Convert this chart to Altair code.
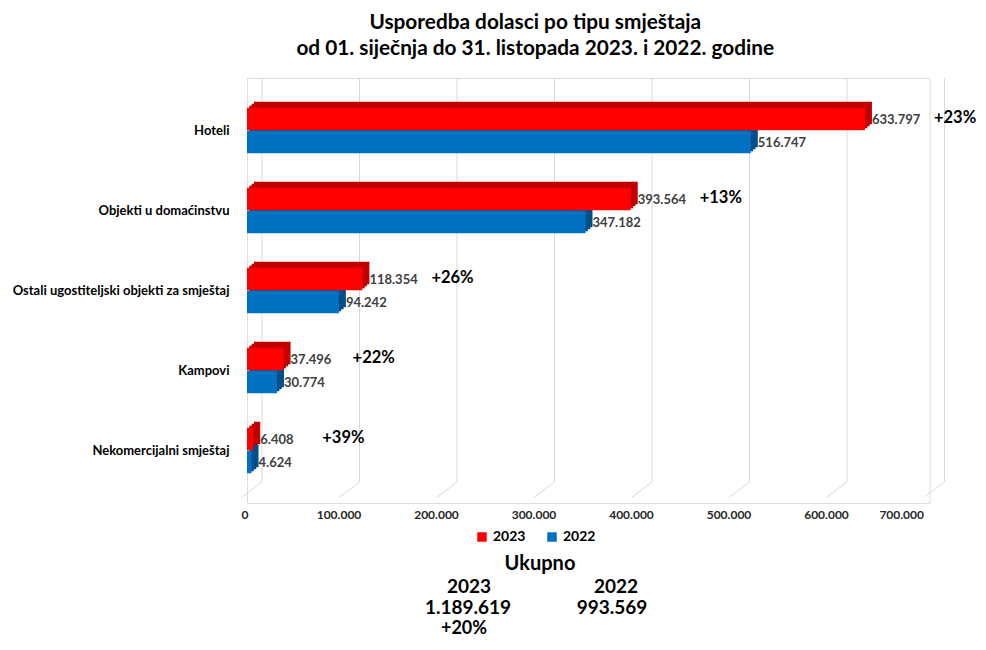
import altair as alt
import pandas as pd

categories = ["Hoteli", "Objekti u domaćinstvu", "Ostali ugostiteljski objekti za smještaj",
              "Kampovi", "Nekomercijalni smještaj"]
values_2023 = [633797, 393564, 118354, 37496, 6408]
values_2022 = [516747, 347182, 94242, 30774, 4624]
pct_labels = ["+23%", "+13%", "+26%", "+22%", "+39%"]
ticks = [0, 100000, 200000, 300000, 400000, 500000, 600000, 700000]
years = ["2023", "2022"]
total_2023 = 1189619
total_2022 = 993569
total_pct = "+20%"

RED, DRED = "#FF0000", "#C00000"
BLUE, DBLUE = "#0070C0", "#004F8A"
FONT = "Lato"


def fmt(v):
    return f"{v:,}".replace(",", ".")


rows = []
for c, a, b, p in zip(categories, values_2023, values_2022, pct_labels):
    rows.append({"cat": c, "year": "2023", "value": a, "label": fmt(a), "pct": p})
    rows.append({"cat": c, "year": "2022", "value": b, "label": fmt(b), "pct": p})
df = pd.DataFrame(rows)
tick_df = pd.DataFrame({"tick": ticks})

XMAX = 700000
xs = alt.Scale(domain=[0, XMAX], nice=False, zero=True)
ys = alt.Scale(paddingInner=0, paddingOuter=0.15625)
X = alt.X("value:Q", scale=xs,
          axis=alt.Axis(values=ticks, grid=False, domain=False, ticks=False,
                        labelExpr="replace(format(datum.value, ','), /,/g, '.')",
                        labelFont=FONT, labelFontWeight="bold", labelFontSize=12,
                        labelColor="#262626", labelPadding=6, labelOffset=-6),
          title=None)
Y = alt.Y("cat:N", sort=categories, scale=ys,
          axis=alt.Axis(domain=False, ticks=False, labelFont=FONT, labelFontWeight="bold",
                        labelFontSize=13, labelColor="#000000", labelPadding=18,
                        labelLimit=400),
          title=None)

BH = 22.5
HO = 11.5
DEPTH_STEPS = [(2.3, -2), (4.7, -4), (7, -6)]

base = alt.Chart(df)
grid_v = alt.Chart(tick_df).mark_rule(color="#d9d9d9", strokeWidth=1, xOffset=15).encode(
    x=alt.X("tick:Q", scale=xs), y=alt.value(0), y2=alt.value(404))
grid_d = alt.Chart(tick_df).mark_rule(color="#d9d9d9", strokeWidth=1, xOffset=15, x2Offset=-5).encode(
    x=alt.X("tick:Q", scale=xs), x2="tick:Q", y=alt.value(404), y2=alt.value(419))

color = alt.Color("year:N", scale=alt.Scale(domain=years, range=[RED, BLUE]),
                  legend=alt.Legend(title=None, orient="none", legendX=228, legendY=452,
                                    direction="horizontal", symbolType="square",
                                    symbolSize=90, symbolStrokeWidth=0,
                                    labelFont=FONT, labelFontWeight="bold", labelFontSize=14,
                                    labelColor="#000000", labelOffset=4, columnPadding=19,
                                    padding=0))

backs = []
for dx, dy in DEPTH_STEPS:
    backs.append(base.transform_filter("datum.year == '2023'").mark_bar(
        height=BH, color=DRED, xOffset=dx, x2Offset=dx, yOffset=-HO + dy).encode(x=X, y=Y))
for dx, dy in DEPTH_STEPS:
    backs.append(base.transform_filter("datum.year == '2022'").mark_bar(
        height=BH, color=DBLUE, xOffset=dx, x2Offset=dx, yOffset=HO + dy).encode(x=X, y=Y))
front_r = base.transform_filter("datum.year == '2023'").mark_bar(
    height=BH, yOffset=-HO).encode(x=X, y=Y, color=color)
front_b = base.transform_filter("datum.year == '2022'").mark_bar(
    height=BH, yOffset=HO).encode(x=X, y=Y, color=color)

lab_r = base.transform_filter("datum.year == '2023'").mark_text(
    align="left", baseline="middle", dx=7, yOffset=-HO + 1, font=FONT, fontWeight="bold",
    fontSize=13, color="#404040").encode(x=X, y=Y, text="label:N")
lab_b = base.transform_filter("datum.year == '2022'").mark_text(
    align="left", baseline="middle", dx=7, yOffset=HO + 1, font=FONT, fontWeight="bold",
    fontSize=13, color="#404040").encode(x=X, y=Y, text="label:N")
pct = base.transform_filter("datum.year == '2023'").mark_text(
    align="left", baseline="middle", dx=69, yOffset=-HO - 1, font=FONT, fontWeight="bold",
    fontSize=16.5, color="#000000").encode(x=X, y=Y, text="pct:N")

tot_df = pd.DataFrame({"a": [0]})


def note(text, x, y, size):
    return alt.Chart(tot_df).mark_text(
        text=text, align="center", baseline="middle", font=FONT, fontWeight="bold",
        fontSize=size, color="#000000").encode(x=alt.value(x), y=alt.value(y))


notes = [
    note("Ukupno", 540 - 247, 564 - 78, 20),
    note("2023", 469 - 247, 587 - 78, 19),
    note(fmt(total_2023), 468 - 247, 608 - 78, 19),
    note(total_pct, 464 - 247, 629 - 78, 18),
    note("2022", 616 - 247, 587 - 78, 19),
    note(fmt(total_2022), 612 - 247, 608 - 78, 19),
]

chart = alt.layer(grid_v, grid_d, *backs, front_r, front_b, lab_r, lab_b, pct, *notes).properties(
    width=682.5, height=425,
    padding={"left": 239, "top": 70, "right": 48.5, "bottom": 139},
    autosize=alt.AutoSizeParams(type="none"),
    title=alt.TitleParams(
        text=["Usporedba dolasci po tipu smještaja",
              "od 01. siječnja do 31. listopada 2023. i 2022. godine"],
        font=FONT, fontSize=20.8, fontWeight="bold", color="#000000",
        anchor="middle", dx=-53, offset=18, lineHeight=26),
).configure_view(stroke=None).configure(background="white")

chart.save("out.html", embed_options={"renderer": "svg", "actions": False})
